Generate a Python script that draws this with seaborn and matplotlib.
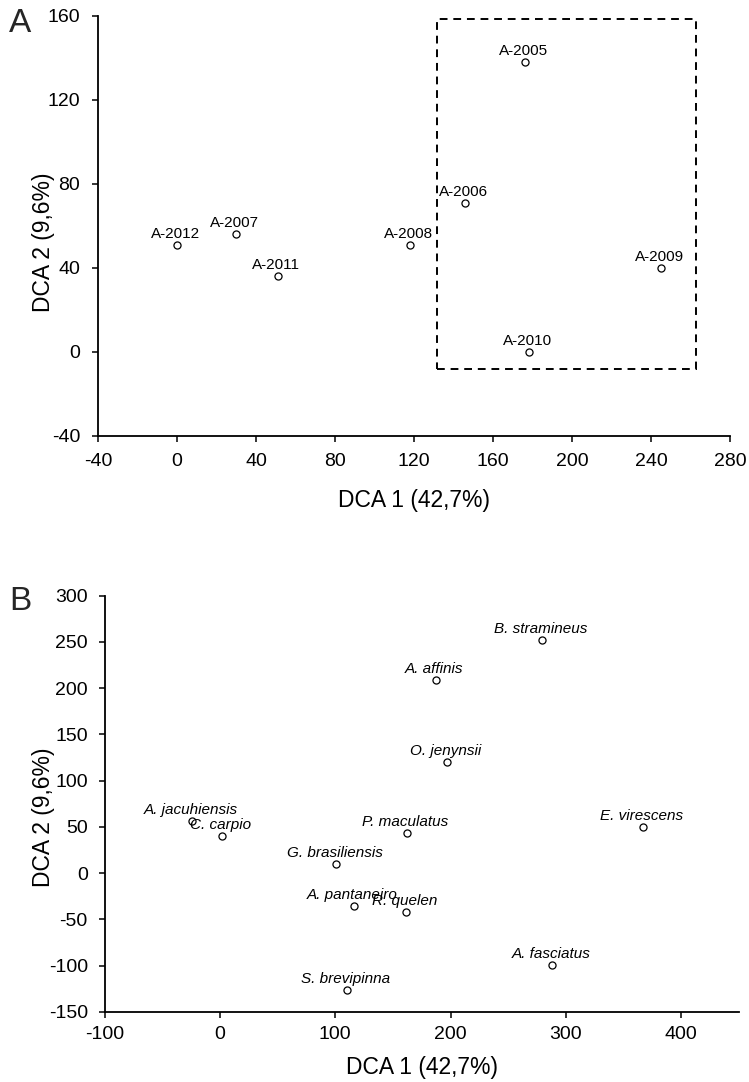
import matplotlib
matplotlib.use("Agg")
import matplotlib.pyplot as plt
import seaborn as sns
import pandas as pd
from matplotlib.patches import Rectangle

# ---------------- data ----------------
years = ["A-2005", "A-2006", "A-2007", "A-2008", "A-2009", "A-2010", "A-2011", "A-2012"]
years_dca1 = [176, 146, 30, 118, 245, 178, 51, 0]
years_dca2 = [138, 71, 56, 51, 40, 0, 36, 51]
box_a = [131.5, 262.8, -7.9, 158.4]  # x0, x1, y0, y1 of the dashed group box

species = ["B. stramineus", "A. affinis", "O. jenynsii", "P. maculatus", "E. virescens",
           "A. jacuhiensis", "C. carpio", "G. brasiliensis", "A. pantaneiro", "R. quelen",
           "A. fasciatus", "S. brevipinna"]
species_dca1 = [279, 187, 197, 162, 367, -24, 2, 101, 116, 161, 288, 110]
species_dca2 = [252, 209, 120, 44, 50, 56, 40, 10, -35, -42, -99, -126]

xticks_a = [-40, 0, 40, 80, 120, 160, 200, 240, 280]
yticks_a = [-40, 0, 40, 80, 120, 160]
xticks_b = [-100, 0, 100, 200, 300, 400]
yticks_b = [-150, -100, -50, 0, 50, 100, 150, 200, 250, 300]

xlabel = "DCA 1 (42,7%)"
ylabel = "DCA 2 (9,6%)"

# ---------------- style ----------------
sns.set_style("ticks")
plt.rcParams["font.family"] = ["Liberation Sans", "DejaVu Sans"]
plt.rcParams["axes.unicode_minus"] = False

W, H = 749, 1082
fig = plt.figure(figsize=(W / 100, H / 100), dpi=100)

def px_axes(left, right, top, bottom):
    return fig.add_axes([left / W, 1 - bottom / H, (right - left) / W, (bottom - top) / H])

axA = px_axes(98, 730, 16, 436)
axB = px_axes(104.5, 739, 595.7, 1012)

dfA = pd.DataFrame({"x": years_dca1, "y": years_dca2, "lab": years})
dfB = pd.DataFrame({"x": species_dca1, "y": species_dca2, "lab": species})

configs = [
    # ax, df, xticks, yticks, italic, xmax, x pad, y pad, xlabel y, ylabel x, ylabel y
    (axA, dfA, xticks_a, yticks_a, False, 280, 8.0, 8.8, -0.126, -0.068, 0.461),
    (axB, dfB, xticks_b, yticks_b, True, 450, 5.8, 8.0, -0.105, -0.078, 0.469),
]

for ax, df, xt, yt, italic, xmax, xpad, ypad, xly, ylx, yly in configs:
    sns.scatterplot(data=df, x="x", y="y", ax=ax, s=26, facecolor="white",
                    edgecolor="black", linewidth=0.9, zorder=3, legend=False)
    for _, r in df.iterrows():
        ax.annotate(r["lab"], (r["x"], r["y"]), xytext=(-1, 5), textcoords="offset points",
                    ha="center", va="baseline", fontsize=11,
                    style="italic" if italic else "normal", color="black")
    ax.set_xlim(xt[0], xmax)
    ax.set_ylim(yt[0], yt[-1])
    ax.set_xticks(xt)
    ax.set_yticks(yt)
    ax.tick_params(axis="both", direction="out", length=4, width=1.1, labelsize=14,
                   colors="black")
    ax.tick_params(axis="x", pad=xpad)
    ax.tick_params(axis="y", pad=ypad)
    for sp in ["top", "right"]:
        ax.spines[sp].set_visible(False)
    for sp in ["left", "bottom"]:
        ax.spines[sp].set_linewidth(1.3)
        ax.spines[sp].set_color("black")
    ax.set_xlabel(xlabel, fontsize=16.5, color="black")
    ax.set_ylabel(ylabel, fontsize=16.5, color="black")
    ax.xaxis.set_label_coords(0.5, xly)
    ax.yaxis.set_label_coords(ylx, yly)
    ax.set_facecolor("white")

x0, x1, y0, y1 = box_a
axA.add_patch(Rectangle((x0, y0), x1 - x0, y1 - y0, fill=False, edgecolor="black",
                        linewidth=1.4, linestyle=(0, (4, 3)), zorder=2))

fig.text(9 / W, 1 - 32 / H, "A", fontsize=24, ha="left", va="baseline")
fig.text(9 / W, 1 - 610 / H, "B", fontsize=24, ha="left", va="baseline")

fig.savefig("out.png", dpi=100, facecolor="white")
